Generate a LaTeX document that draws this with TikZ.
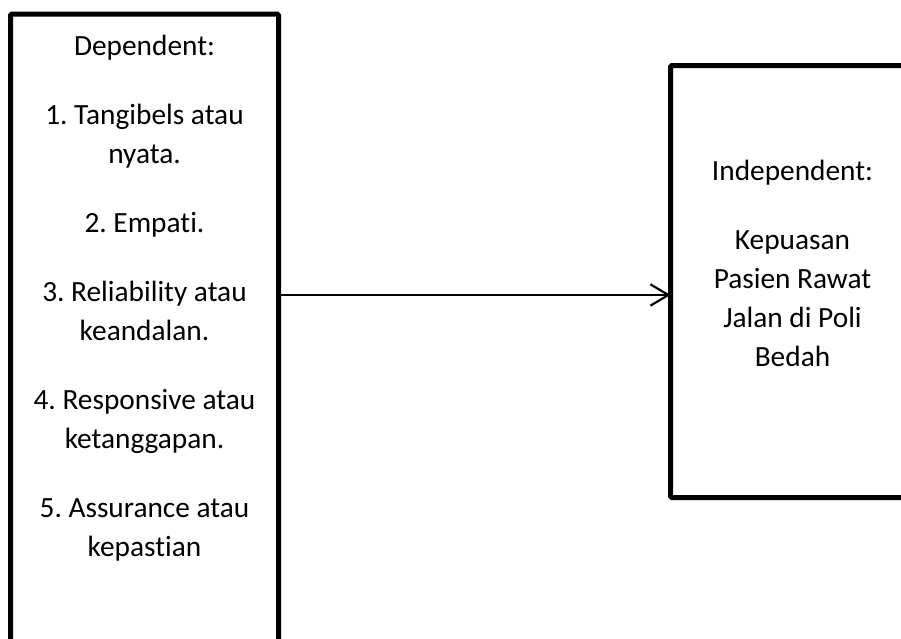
\documentclass[tikz,border=0pt]{standalone}
\usepackage{fontspec}
\setmainfont{Carlito}[Ligatures=NoCommon]
\usetikzlibrary{arrows.meta}
\frenchspacing

\begin{document}
\begin{tikzpicture}[x=0.75pt,y=0.75pt,yscale=-1,xscale=1,
  varbox/.style={draw, line width=3.75pt, rounded corners=1pt, inner sep=0pt, outer sep=0pt},
  vartext/.style={align=center, inner sep=0pt, anchor=north, font=\fontsize{22}{29.25}\selectfont},
  linkarrow/.style={line width=1.1pt, -{Straight Barb[length=13.5pt,width=16pt,line width=1.6pt]}}]
\clip (0,0) rectangle (901,639);

%Shape: Rectangle [dependent]
\node [varbox, minimum width=201pt, minimum height=514.5pt] (dependent) at (144.5,357) {};
%Shape: Rectangle [independent]
\node [varbox, minimum width=183pt, minimum height=324pt] (independent) at (792.5,281.5) {};

%Straight Lines
\coordinate (arrowlevel) at (0,295);
\draw [linkarrow] (dependent.east |- arrowlevel) -- (independent.west |- arrowlevel);

% Text Node
\node [vartext] (deptext) at (144.5,35) {Dependent:\\[22.5pt]
  1. Tangibels atau\\ nyata.\\[22.5pt]
  2. Empati.\\[22.5pt]
  3. Reliability atau\\ keandalan.\\[22.5pt]
  4. Responsive atau\\ ketanggapan.\\[22.5pt]
  5. Assurance atau\\ kepastian};
% Text Node
\node [vartext] (indeptext) at (792.5,160) {Independent:\\[22.5pt]
  Kepuasan\\ Pasien Rawat\\ Jalan di Poli\\ Bedah};

\end{tikzpicture}
\end{document}
